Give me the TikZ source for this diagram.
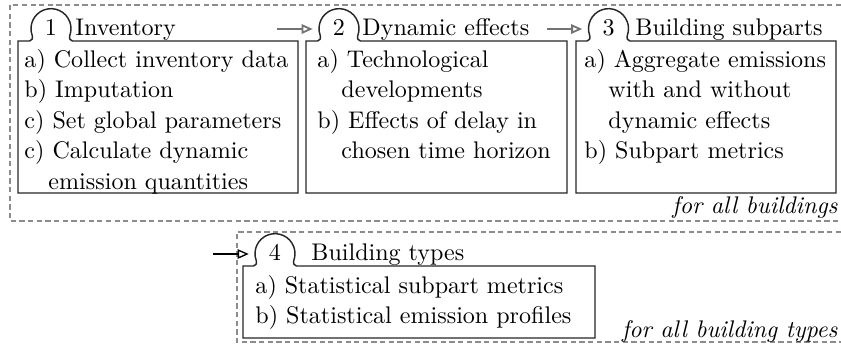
\documentclass[tikz,border=0pt]{standalone}
\usetikzlibrary{arrows.meta}
\newcommand{\unitpx}{0.4158pt}
% box with a round tab on its top edge; #1 left, #2 top, #3 right, #4 bottom, #5 tab centre x
\newcommand{\tabbox}[5]{%
  \draw[stage] (#1,#2) -- ({#5-21.5},#2)
    .. controls ({#5-19.5},#2) and ({#5-17.8},{#2-2.5}) .. ({#5-18.8},{#2-5.5})
    arc[start angle=160,end angle=380,radius=20]
    .. controls ({#5+17.8},{#2-2.5}) and ({#5+19.5},#2) .. ({#5+21.5},#2)
    -- (#3,#2) -- (#3,#4) -- (#1,#4) -- cycle;}
\begin{document}
\begin{tikzpicture}[x=\unitpx,y=-\unitpx,
  frame/.style={draw=black!45,line width=0.45pt,dash pattern=on 2.2pt off 1.4pt},
  stage/.style={draw=black!85,line width=0.6pt,fill=white},
  badge/.style={circle,minimum size=40*\unitpx,inner sep=0pt,draw=none},
  num/.style={anchor=base,inner sep=0pt},
  txt/.style={anchor=base west,inner sep=0pt},
  note/.style={anchor=base east,inner sep=0pt,font=\itshape},
  flow/.style={draw=black!55,line width=0.75pt,shorten >=2.4pt,
    -{Triangle[open,length=4.6pt,width=3.9pt]}},
  feed/.style={draw=black,line width=0.55pt,shorten >=2.4pt,
    -{Triangle[open,length=4.6pt,width=3.9pt]}},
]
\useasboundingbox (0,0) rectangle (841,350);

% dashed groups
\draw[frame] (841,5) -- (10,5) -- (10,221) -- (841,221);
\draw[frame] (841,232) -- (237,232) -- (237,342) -- (841,342);
\node[note] (allb) at (838,213) {for all buildings};
\node[note] (allt) at (838,337) {for all building types};

% stage boxes
\tabbox{18}{41}{298}{193}{51}
\tabbox{306}{41}{567}{193}{339}
\tabbox{576}{41}{836}{193}{608.5}
\tabbox{243}{266}{595}{338}{275}

% tabs
\node[badge] (b1) at (51,29) {};
\node[badge] (b2) at (339,29) {};
\node[badge] (b3) at (608.5,29) {};
\node[badge] (b4) at (275,254) {};
\node[num] (n1) at (51,35) {1};
\node[num] (n2) at (339,35) {2};
\node[num] (n3) at (608.5,35) {3};
\node[num] (n4) at (275,260) {4};

% titles
\node[txt] (t1) at (75,35) {Inventory};
\node[txt] (t2) at (362,35) {Dynamic effects};
\node[txt] (t3) at (635,35) {Building subparts};
\node[txt] (t4) at (311,260) {Building types};

% stage 1
\node[txt] (l11) at (24,67) {a) Collect inventory data};
\node[txt] (l12) at (24,97.5) {b) Imputation};
\node[txt] (l13) at (24,128) {c) Set global parameters};
\node[txt] (l14) at (24,158.5) {c) Calculate dynamic};
\node[txt] (l15) at (48,189) {emission quantities};
% stage 2
\node[txt] (l21) at (317,67) {a) Technological};
\node[txt] (l22) at (341,97.5) {developments};
\node[txt] (l23) at (317,128) {b) Effects of delay in};
\node[txt] (l24) at (341,158.5) {chosen time horizon};
% stage 3
\node[txt] (l31) at (584,67) {a) Aggregate emissions};
\node[txt] (l32) at (608,97.5) {with and without};
\node[txt] (l33) at (608,128) {dynamic effects};
\node[txt] (l34) at (584,158.5) {b) Subpart metrics};
% stage 4
\node[txt] (l41) at (255,293) {a) Statistical subpart metrics};
\node[txt] (l42) at (255,323) {b) Statistical emission profiles};

% flow between stages
\coordinate (s1) at (277,29);
\coordinate (s2) at (547,29);
\coordinate (s4) at (213,254);
\draw[flow] (s1) -- (b2);
\draw[flow] (s2) -- (b3);
\draw[feed] (s4) -- (b4);
\end{tikzpicture}
\end{document}
